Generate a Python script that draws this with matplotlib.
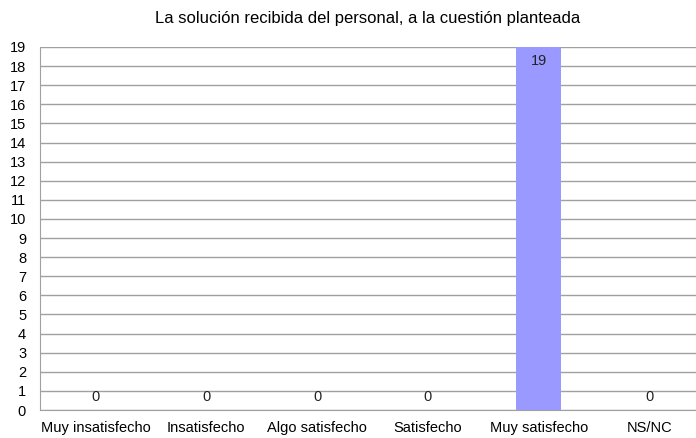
import matplotlib
matplotlib.use('Agg')
import matplotlib.pyplot as plt

plt.rcParams['font.family'] = ['Liberation Sans', 'DejaVu Sans']

categories = ['Muy insatisfecho', 'Insatisfecho', 'Algo satisfecho',
              'Satisfecho', 'Muy satisfecho', 'NS/NC']
values = [0, 0, 0, 0, 19, 0]
title = 'La solución recibida del personal, a la cuestión planteada'

fig = plt.figure(figsize=(6.96, 4.38), dpi=100)
ax = fig.add_axes([40 / 696, 1 - 410 / 438, 656 / 696, 363 / 438])

x = range(len(categories))
ax.bar(x, values, width=0.41, color='#9999FF', zorder=3)

for i, v in zip(x, values):
    if v > 0:
        ax.text(i, v - 0.75, str(v), ha='center', va='center', fontsize=10.5, color='#222222', zorder=4)
    else:
        ax.text(i, 0.7, str(v), ha='center', va='center', fontsize=10.5, color='#222222', zorder=4)

ax.set_ylim(0, 19)
ax.set_xlim(-0.5, 5.42)
ax.set_yticks(range(0, 20))
ax.set_xticks(list(x))
ax.set_xticklabels(categories, fontsize=10.5)
ax.tick_params(axis='y', labelsize=10.5, length=0, pad=10)
ax.tick_params(axis='x', length=0, pad=8)

ax.grid(axis='y', color='#A0A0A0', linewidth=1, zorder=0)
for s in ['top', 'right']:
    ax.spines[s].set_visible(False)
ax.spines['left'].set_color('#A0A0A0')
ax.spines['bottom'].set_color('#A0A0A0')

fig.text(368 / 696, 1 - 18 / 438, title, ha='center', va='center', fontsize=12)

plt.savefig('out.png', dpi=100)
